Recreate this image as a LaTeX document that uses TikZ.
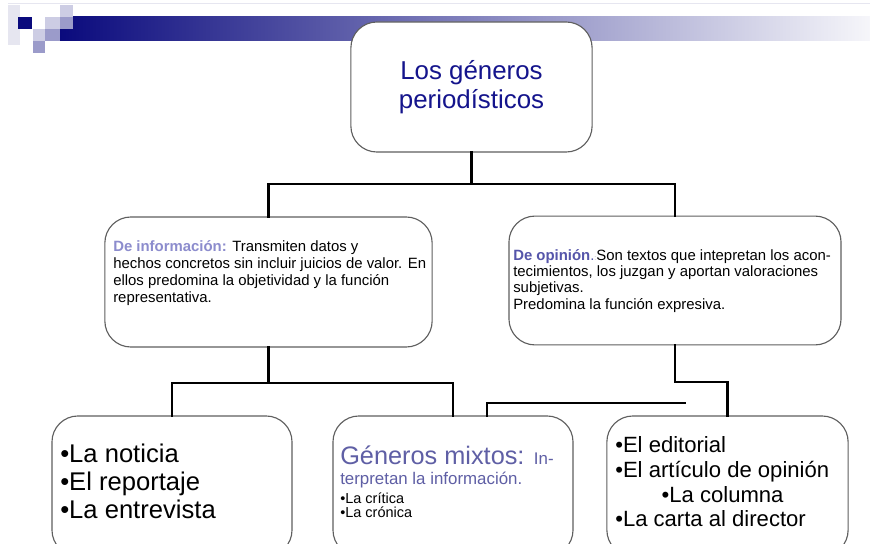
\documentclass[tikz,border=0pt]{standalone}
\usepackage{fontspec}
\setmainfont{Liberation Sans}
\usepackage{tikz}
\usetikzlibrary{shapes}
\definecolor{titleblue}{RGB}{20,20,140}
\definecolor{infoblue}{RGB}{140,140,205}
\definecolor{opinblue}{RGB}{85,85,170}
\definecolor{mixblue}{RGB}{95,95,165}
\definecolor{boxgray}{RGB}{95,95,95}
\definecolor{hdrnavy}{RGB}{10,10,125}
\definecolor{hdrend}{RGB}{246,246,250}
\definecolor{hdrpale}{RGB}{230,230,240}
\definecolor{hdrlight}{RGB}{205,205,228}
\definecolor{hdrmid}{RGB}{155,155,202}
\tikzset{
  genbox/.style={rectangle, draw=boxgray, line width=0.8pt, fill=white, rounded corners=0.65cm, inner sep=0pt},
  gentext/.style={anchor=north west, inner sep=0pt, align=left},
  link/.style={line width=2pt, line cap=rect}
}
\newcommand{\genbox}[4] {\node at (#1) (#2) [genbox, minimum width=#3, minimum height=#4] {};}
\newcommand{\gentext}[4] {\node at (#1) (#2) [gentext, font=#3] {#4};}
\newcommand{\genlink}[2] {\draw [link] (#1) -- (#2);}
\newcommand{\genelbow}[2] {\draw [link] (#1) -| (#2);}
\newcommand{\genfork}[3] {\draw [link] (#1) |- (#2) -| (#3);}

\begin{document}
\begin{tikzpicture}[x=0.025cm, y=-0.025cm]

\clip (0,0) rectangle (870,544);
\fill [white] (0,0) rectangle (870,544);

\fill [hdrpale] (8,3.5) rectangle (870,4.5);
\fill [hdrpale] (8,5) rectangle (20,45);
\shade [left color=hdrnavy, right color=hdrend] (60,17) rectangle (870,41);
\fill [hdrnavy] (18,17) rectangle (32,29);
\fill [hdrlight] (45,17) rectangle (60,29);
\fill [hdrlight] (60,5) rectangle (73,17);
\fill [hdrmid] (60,17) rectangle (73,29);
\fill [hdrlight] (33,29) rectangle (45,41);
\fill [hdrmid] (45,29) rectangle (60,41);
\fill [hdrmid] (33,41) rectangle (45,53);

\node at (471.5,87) (title) [genbox, minimum width=6.03cm, minimum height=3.25cm, align=center,
  text=titleblue, font=\fontsize{18.4pt}{20.5pt}\selectfont] {Los géneros\\periodísticos};
\genbox{268.5,282}{infobox}{8.18cm}{3.25cm}
\genbox{675,280.5}{opinionbox}{8.3cm}{3.22cm}
\genbox{172,486}{newsbox}{6cm}{3.5cm}
\genbox{453,486}{mixedbox}{6cm}{3.5cm}
\genbox{727.5,486}{opinlist}{6.03cm}{3.5cm}

\gentext{113,240}{infotext}{\fontsize{10.6pt}{12.1pt}\selectfont}{%
  {\color{infoblue}\textbf{De información:}} Transmiten datos y\\
  hechos concretos sin incluir juicios de valor. En\\
  ellos predomina la objetividad y la función\\
  representativa.}
\gentext{513,249}{opiniontext}{\fontsize{10.6pt}{11.6pt}\selectfont}{%
  {\color{opinblue}\textbf{De opinión}.}{\color{gray!60}\tiny:}Son textos que intepretan los acon-\\
  tecimientos, los juzgan y aportan valoraciones\\
  subjetivas.\\
  Predomina la función expresiva.}
\gentext{60,444}{newstext}{\fontsize{18.2pt}{19.9pt}\selectfont}{%
  •La noticia\\
  •El reportaje\\
  •La entrevista}
\gentext{340,446}{mixedtext}{\fontsize{18pt}{14.2pt}\selectfont}{%
  {\color{mixblue}Géneros mixtos: {\fontsize{12pt}{14pt}\selectfont In-}}\\
  {\color{mixblue}\fontsize{12pt}{14pt}\selectfont terpretan la información.}\\[-0.7pt]
  {\fontsize{10.3pt}{10pt}\selectfont •La crítica}\\[-4.3pt]
  {\fontsize{10.3pt}{10pt}\selectfont •La crónica}}
\gentext{615,436}{opinlisttext}{\fontsize{15.7pt}{17.7pt}\selectfont}{%
  •El editorial\\
  •El artículo de opinión\\
  \hspace{33pt}•La columna\\
  •La carta al director}

\coordinate (topjoin) at (471.5,184);
\coordinate (infojoin) at (268.5,383);
\coordinate (opinjoin) at (675,382);
\coordinate (mixedend) at (685,403);
\coordinate (mixedin) at (487,416);

\genlink{title.south}{topjoin}
\genfork{infobox.north}{topjoin}{opinionbox.north}
\genlink{infobox.south}{infojoin}
\genfork{newsbox.north}{infojoin}{mixedbox.north}
\genlink{opinionbox.south}{opinjoin}
\genelbow{opinjoin}{opinlist.north}
\genelbow{mixedend}{mixedin}

\end{tikzpicture}
\end{document}
